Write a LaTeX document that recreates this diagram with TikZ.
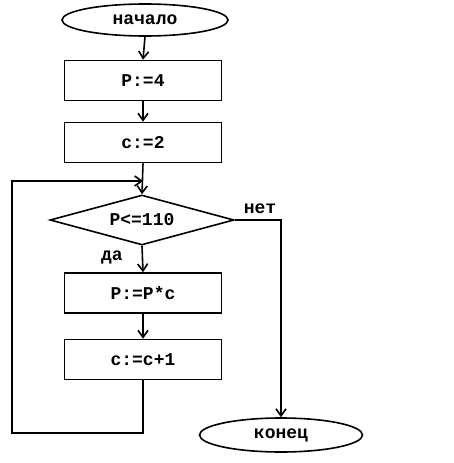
\documentclass[tikz,border=0pt]{standalone}
\usepackage{fontspec}
\setmonofont{Liberation Mono}
\usetikzlibrary{arrows.meta,shapes.geometric}
\begin{document}
\begin{tikzpicture}[x=1pt,y=-1pt,
  line width=1.6pt,
  every node/.style={font=\ttfamily\bfseries\fontsize{18}{18}\selectfont},
  procbox/.style={draw,rectangle,minimum width=157pt,minimum height=40pt,inner sep=0pt},
  term/.style={draw,ellipse,minimum width=166pt,minimum height=32pt,inner sep=0pt},
  decis/.style={draw,diamond,aspect=3.68,minimum width=184pt,minimum height=50pt,inner sep=0pt},
  lbl/.style={inner sep=0pt},
  arr/.style={-{Straight Barb[length=7pt,width=10pt,line width=1.6pt]}}]
\useasboundingbox (0,0) rectangle (453,463);
\node[term] (start) at (145,20) {начало};
\node[procbox] (p4) at (143,80.5) {P:=4};
\node[procbox] (c2) at (143,142.5) {c:=2};
\node[decis] (cond) at (142,220) {P<=110};
\node[procbox] (pc) at (143,293) {P:=P*c};
\node[procbox] (cinc) at (143,359.5) {c:=c+1};
\node[term,minimum width=163pt,minimum height=34pt] (stop) at (281,435) {конец};
\node[lbl] at (260,209) {нет};
\node[lbl] at (112,257) {да};
\coordinate (join) at (143,181);
\coordinate (bl) at (12,433);
\coordinate (tl) at (12,181);
\coordinate (br) at (143,433);
\coordinate (rt) at (281,220);
\draw[arr] (start.south) -- (p4.north);
\draw[arr] (p4.south) -- (c2.north);
\draw[arr] (c2.south) -- (cond.north);
\draw[arr] (cond.south) -- (pc.north);
\draw[arr] (pc.south) -- (cinc.north);
\draw[arr] (cinc.south) -- (br) -- (bl) -- (tl) -- (join);
\draw[arr] (cond.east) -- (rt) -- (stop.north);
\end{tikzpicture}
\end{document}
